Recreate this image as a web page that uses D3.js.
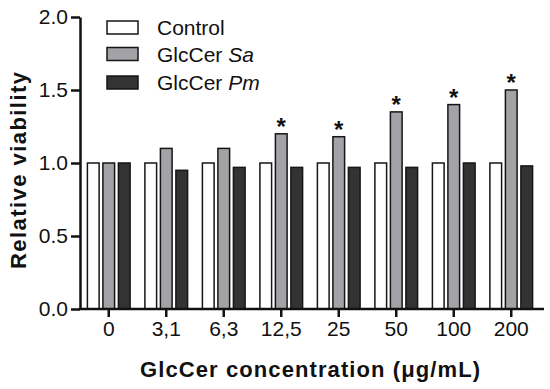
<script src="https://cdnjs.cloudflare.com/ajax/libs/d3/7.8.5/d3.min.js"></script>
<html>
<head>
<style>
  body { margin: 0; background: #fff; }
  svg text { font-family: "Liberation Sans", Arial, sans-serif; fill: #111; }
</style>
</head>
<body>
<div id="chart"></div>
<script>
// values
var doses = ["0", "3,1", "6,3", "12,5", "25", "50", "100", "200"];
var seriesNames = ["Control", "GlcCer Sa", "GlcCer Pm"];
var control = [1.0, 1.0, 1.0, 1.0, 1.0, 1.0, 1.0, 1.0];
var glcSa = [1.0, 1.1, 1.1, 1.2, 1.18, 1.35, 1.4, 1.5];
var glcPm = [1.0, 0.95, 0.97, 0.97, 0.97, 0.97, 1.0, 0.98];
var starred = [false, false, false, true, true, true, true, true]; // p < 0.05 on Sa
var yTicks = [0, 0.5, 1.0, 1.5, 2.0];

var fills = ["#ffffff", "#a3a3a7", "#333333"];
var W = 550, H = 389;
var margin = {top: 17, left: 80, right: 10, bottom: 80};

var svg = d3.select("#chart").append("svg")
  .attr("width", W)
  .attr("height", H);

var x = d3.scaleBand()
  .domain(doses)
  .range([margin.left, 540])
  .padding(0);

var inner = d3.scaleBand()
  .domain([0, 1, 2])
  .range([-21.35, 21.35])
  .paddingInner(0.245)
  .paddingOuter(0);

var y = d3.scaleLinear()
  .domain([0, 2])
  .range([H - margin.bottom, margin.top]);

// rows: one per dose, each with three values
var rows = doses.map(function(d, i) {
  return {dose: d, vals: [control[i], glcSa[i], glcPm[i]], star: starred[i]};
});

// bars
var groups = svg.selectAll("g.dose")
  .data(rows)
  .enter().append("g")
  .attr("class", "dose")
  .attr("transform", function(d) { return "translate(" + (x(d.dose) + x.bandwidth() / 2) + ",0)"; });

groups.selectAll("rect")
  .data(function(d) { return d.vals; })
  .enter().append("rect")
  .attr("x", function(d, i) { return inner(i); })
  .attr("y", function(d) { return y(d); })
  .attr("width", inner.bandwidth())
  .attr("height", function(d) { return y(0) - y(d); })
  .attr("fill", function(d, i) { return fills[i]; })
  .attr("stroke", "#161616")
  .attr("stroke-width", 1.5);

// asterisks over GlcCer Sa
groups.filter(function(d) { return d.star; })
  .append("text")
  .attr("x", inner(1) + inner.bandwidth() / 2)
  .attr("y", function(d) { return y(d.vals[1]) + 1; })
  .attr("text-anchor", "middle")
  .style("font-size", "24px")
  .style("font-weight", "bold")
  .text("*");

// axes
var yAx = d3.axisLeft(y)
  .tickValues(yTicks)
  .tickFormat(d3.format(".1f"))
  .tickSize(9)
  .tickSizeOuter(0)
  .tickPadding(3);

var yGroup = svg.append("g")
  .attr("transform", "translate(" + margin.left + ",0)")
  .call(yAx);

var xAx = d3.axisBottom(x)
  .tickSize(8)
  .tickSizeOuter(0)
  .tickPadding(4);

var xGroup = svg.append("g")
  .attr("transform", "translate(0," + y(0) + ")")
  .call(xAx);
xGroup.select(".domain").attr("d", "M" + (margin.left - 1.25) + ",0H544");

[yGroup, xGroup].forEach(function(g) {
  g.select(".domain").attr("stroke", "#111").attr("stroke-width", 2.5);
  g.selectAll(".tick line").attr("stroke", "#111").attr("stroke-width", 2.5);
  g.selectAll(".tick text")
    .style("font-size", "21px")
    .style("font-family", "'Liberation Sans', Arial, sans-serif")
    .attr("fill", "#111");
});

// axis titles
svg.append("text")
  .attr("transform", "translate(26,170.5) rotate(-90)")
  .attr("text-anchor", "middle")
  .attr("textLength", 197)
  .attr("lengthAdjust", "spacing")
  .style("font-size", "22px")
  .style("font-weight", "bold")
  .text("Relative viability");

svg.append("text")
  .attr("x", 310)
  .attr("y", 377)
  .attr("text-anchor", "middle")
  .attr("textLength", 340)
  .attr("lengthAdjust", "spacing")
  .style("font-size", "22px")
  .style("font-weight", "bold")
  .text("GlcCer concentration (\u03bcg/mL)");

// legend
var legend = svg.append("g").attr("transform", "translate(107,21)");
var items = legend.selectAll("g")
  .data(seriesNames)
  .enter().append("g")
  .attr("transform", function(d, i) { return "translate(0," + [0, 26.5, 55][i] + ")"; });

items.append("rect")
  .attr("width", 31)
  .attr("height", 13)
  .attr("fill", function(d, i) { return fills[i]; })
  .attr("stroke", "#161616")
  .attr("stroke-width", 1.5);

items.append("text")
  .attr("x", 50)
  .attr("y", 14)
  .style("font-size", "21px")
  .each(function(d) {
    var parts = d.split(" ");
    var t = d3.select(this);
    t.append("tspan").text(parts[0]);
    if (parts[1]) {
      t.append("tspan").text(" ");
      t.append("tspan").style("font-style", "italic").text(parts[1]);
    }
  });
</script>
</body>
</html>
